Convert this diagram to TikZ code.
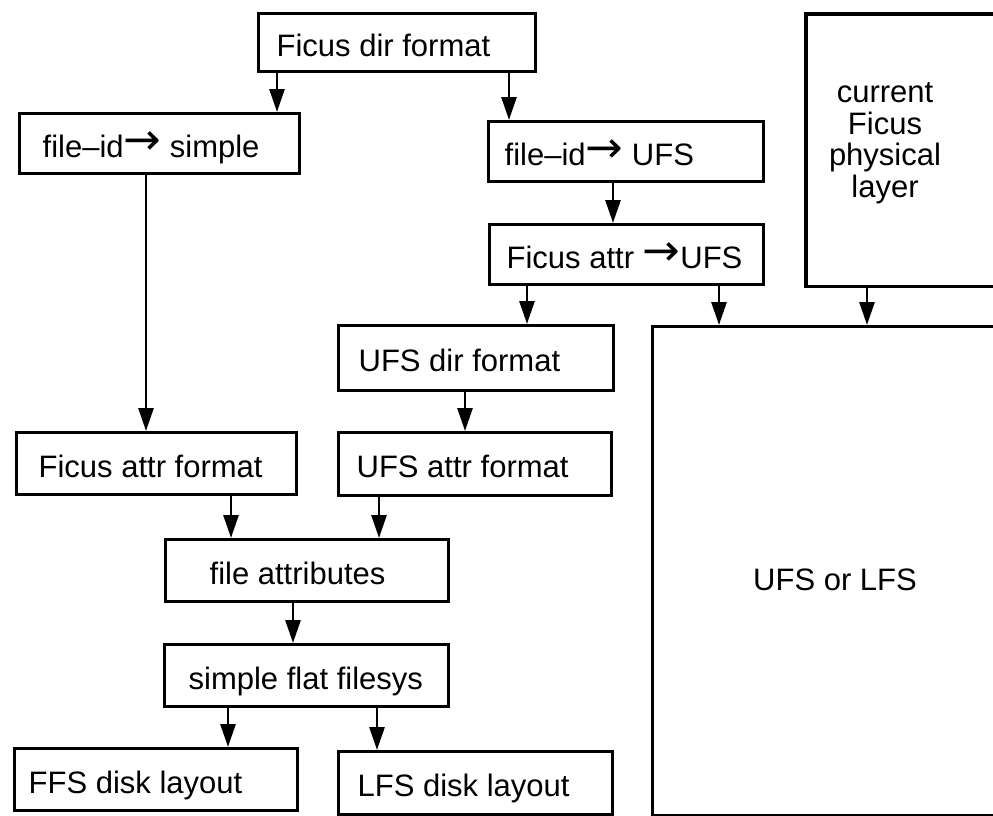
\documentclass[tikz,border=0pt]{standalone}
\usepackage{fontspec}
\setmainfont{Liberation Sans}
\newfontfamily\symfont{DejaVu Sans}
\usetikzlibrary{arrows.meta}
\newcommand{\rarr}{{\symfont\raisebox{3pt}{\scalebox{1.45}[1.4]{→}}}}
\newcommand{\lt}[2]{\makebox[#1][l]{#2}}
\tikzset{
  box/.style={draw, line width=3.3pt, inner ysep=0pt, anchor=north west,
              text height=27pt, text depth=0pt},
  arr/.style={line width=2.8pt, -{Triangle[length=23pt,width=15pt]}},
  side/.style={line width=3.3pt}
}
\begin{document}
\begin{tikzpicture}[x=1pt,y=-1pt, every node/.style={font=\fontsize{31}{31}\selectfont}]
\useasboundingbox (0,0) rectangle (993,816);

% boxes
\node[box, minimum width=277pt, minimum height=58pt, inner xsep=18pt] (fdir) at (257,12) {\lt{241pt}{Ficus dir format}};
\node[box, minimum width=280pt, minimum height=60pt, inner xsep=23pt] (fids) at (18,112) {\lt{234pt}{file–id\rarr{} simple}};
\node[box, minimum width=275pt, minimum height=60pt, inner xsep=16pt] (fidu) at (487,120) {\lt{243pt}{file–id\rarr{} UFS}};
\node[box, minimum width=274pt, minimum height=60pt, inner xsep=17pt] (fau) at (488,223) {\lt{240pt}{Ficus attr \rarr{}UFS}};
\node[box, minimum width=275pt, minimum height=65pt, inner xsep=20pt] (ufsdir) at (337,324) {\lt{235pt}{UFS dir format}};
\node[box, minimum width=273pt, minimum height=63pt, inner xsep=18pt] (ufsattr) at (337,431) {\lt{237pt}{UFS attr format}};
\node[box, minimum width=280pt, minimum height=62pt, inner xsep=22pt] (fattr) at (15,431) {\lt{236pt}{Ficus attr format}};
\node[box, minimum width=283pt, minimum height=62pt, inner xsep=44pt] (fileattr) at (164,538) {\lt{195pt}{file attributes}};
\node[box, minimum width=284pt, minimum height=62pt, inner xsep=24pt] (sff) at (163,643) {\lt{236pt}{simple flat filesys}};
\node[box, minimum width=283pt, minimum height=62pt, inner xsep=14pt] (ffs) at (13,747) {\lt{255pt}{FFS disk layout}};
\node[box, minimum width=274pt, minimum height=63pt, inner xsep=19pt] (lfs) at (337,750) {\lt{236pt}{LFS disk layout}};
\node[box, minimum width=343pt, minimum height=489pt, text height=, text depth=] (big) at (651,325) {};
\node (bigtext) at (835,580) {UFS or LFS};

% current Ficus physical layer (cut off at the right edge)
\node[anchor=north west, inner sep=0pt, minimum width=200pt, minimum height=272pt] (cur) at (806,14) {};
\draw[side] (cur.north east) -- (cur.north west) -- (cur.south west) -- (cur.south east);
\node[align=center, font=\fontsize{31}{31.5}\selectfont] (curtext) at (885,143) {current\\Ficus\\physical\\layer};

% connectors
\coordinate (c1) at (277,0);
\coordinate (c2) at (509,0);
\coordinate (c3) at (613,0);
\coordinate (c4) at (527,0);
\coordinate (c5) at (719,0);
\coordinate (c6) at (867,0);
\coordinate (c7) at (465,0);
\coordinate (c8) at (146,0);
\coordinate (c9) at (231,0);
\coordinate (c10) at (379,0);
\coordinate (c11) at (293,0);
\coordinate (c12) at (228,0);
\coordinate (c13) at (377,0);

\draw[arr] (c1 |- fdir.south) -- (c1 |- fids.north);
\draw[arr] (c2 |- fdir.south) -- (c2 |- fidu.north);
\draw[arr] (c3 |- fidu.south) -- (c3 |- fau.north);
\draw[arr] (c4 |- fau.south) -- (c4 |- ufsdir.north);
\draw[arr] (c5 |- fau.south) -- (c5 |- big.north);
\draw[arr] (c6 |- cur.south) -- (c6 |- big.north);
\draw[arr] (c7 |- ufsdir.south) -- (c7 |- ufsattr.north);
\draw[arr] (c8 |- fids.south) -- (c8 |- fattr.north);
\draw[arr] (c9 |- fattr.south) -- (c9 |- fileattr.north);
\draw[arr] (c10 |- ufsattr.south) -- (c10 |- fileattr.north);
\draw[arr] (c11 |- fileattr.south) -- (c11 |- sff.north);
\draw[arr] (c12 |- sff.south) -- (c12 |- ffs.north);
\draw[arr] (c13 |- sff.south) -- (c13 |- lfs.north);
\end{tikzpicture}
\end{document}
